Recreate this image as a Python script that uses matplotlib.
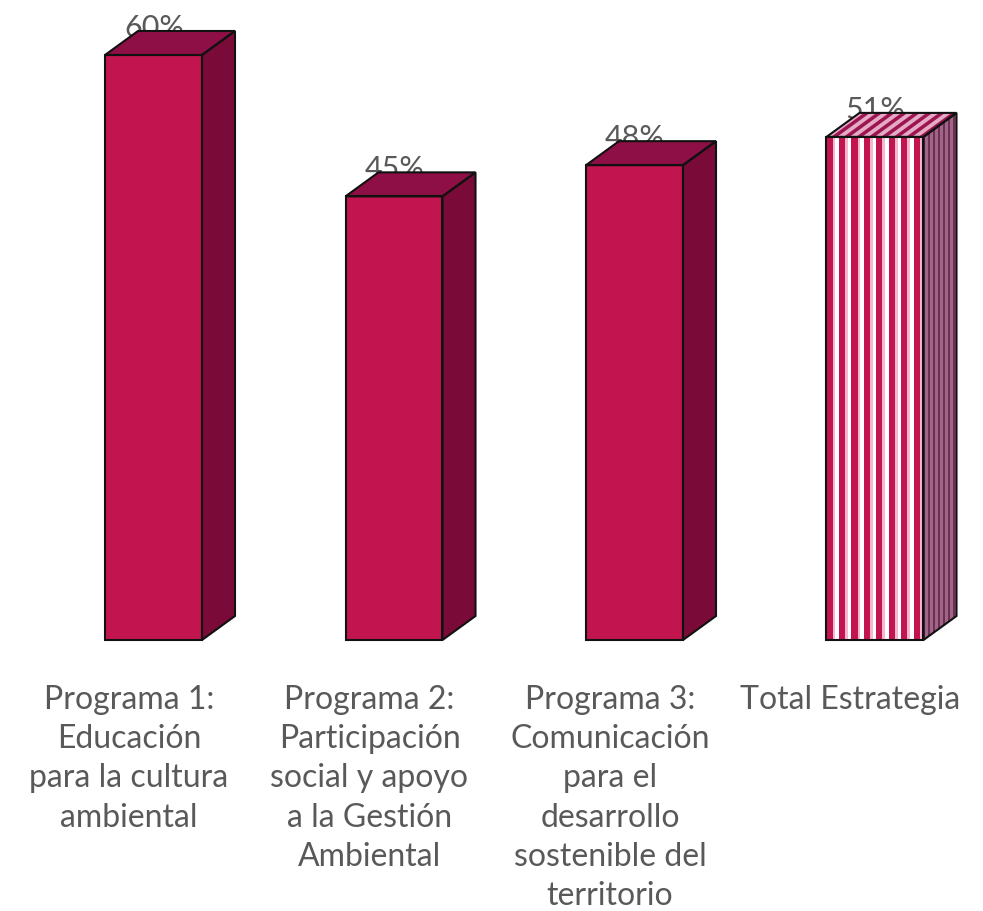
import matplotlib
matplotlib.use("Agg")
import matplotlib.pyplot as plt
from matplotlib.patches import Polygon, Rectangle

plt.rcParams["font.family"] = ["Lato", "DejaVu Sans"]

categories = [
    "Programa 1:\nEducación\npara la cultura\nambiental",
    "Programa 2:\nParticipación\nsocial y apoyo\na la Gestión\nAmbiental",
    "Programa 3:\nComunicación\npara el\ndesarrollo\nsostenible del\nterritorio",
    "Total Estrategia",
]
values = [60, 45.5, 48.7, 51.6]
value_labels = ["60%", "45%", "48%", "51%"]
striped = [False, False, False, True]

W, H = 983, 911
PX_X = 240.5  # pixels per category
PX_Y = 9.75  # pixels per percentage point
BASE_PX = 640
FIRST_PX = 153.5

FRONT = "#C2154F"
TOP = "#8E0F45"
SIDE = "#7A0B38"
TEXT = "#595959"

bar_w = 97 / PX_X
dx = 33 / PX_X
dy = 24 / PX_Y

fig = plt.figure(figsize=(W / 100, H / 100), dpi=100)
ax = fig.add_axes([0, 0, 1, 1])
ax.set_xlim(-FIRST_PX / PX_X, (W - FIRST_PX) / PX_X)
ax.set_ylim(-(H - BASE_PX) / PX_Y, BASE_PX / PX_Y)
ax.axis("off")


def stripes(poly, x0, x1, y0, y1, slant, color, width, period):
    """Fill poly with stripes; slant shifts the top of each stripe sideways."""
    x = x0 - abs(slant) - period
    while x < x1 + abs(slant):
        s = Polygon(
            [(x, y0), (x + width, y0), (x + width + slant, y1), (x + slant, y1)],
            facecolor=color, edgecolor="none", zorder=3,
        )
        ax.add_patch(s)
        s.set_clip_path(poly)
        x += period


for i, v in enumerate(values):
    left, right = i - bar_w / 2, i + bar_w / 2
    side_pts = [(right, 0), (right + dx, dy), (right + dx, v + dy), (right, v)]
    top_pts = [(left, v), (right, v), (right + dx, v + dy), (left + dx, v + dy)]

    # data label sits behind the top face, as in the source
    ax.text(i + 0.5 / PX_X, v + 27 / PX_Y, value_labels[i], ha="center", va="center",
            fontsize=22, color=TEXT, zorder=1)

    if striped[i]:
        front = Rectangle((left, 0), bar_w, v, facecolor="#FFFFFF", edgecolor="none", zorder=2)
        side = Polygon(side_pts, facecolor="#A0668A", edgecolor="none", zorder=2)
        top = Polygon(top_pts, facecolor="#E3ABC4", edgecolor="none", zorder=2)
        for p in (front, side, top):
            ax.add_patch(p)
        period = 12.5 / PX_X
        stripes(front, left, right, 0, v, 0, "#F9B4CF", 9 / PX_X, period)
        stripes(front, left, right, 0, v, 0, FRONT, 6 / PX_X, period)
        stripes(side, right, right + dx, 0, v + dy, 0, "#6E2F50", 2 / PX_X, 5 / PX_X)
        stripes(top, left, right + dx, v, v + dy, dx, "#9E1450", 6 / PX_X, period)
    else:
        ax.bar(i, v, width=bar_w, color=FRONT, zorder=2)
        ax.add_patch(Polygon(side_pts, facecolor=SIDE, edgecolor="none", zorder=2))
        ax.add_patch(Polygon(top_pts, facecolor=TOP, edgecolor="none", zorder=2))

    # outlines on top of fills
    for pts in (side_pts, top_pts, [(left, 0), (right, 0), (right, v), (left, v)]):
        ax.add_patch(Polygon(pts, fill=False, edgecolor="#111111", linewidth=1.5,
                             joinstyle="miter", zorder=4))

    # category labels sit left of the bar centres in the source
    ax.text(i - 24.5 / PX_X, -(685 - BASE_PX) / PX_Y, categories[i], ha="center", va="top",
            fontsize=23, color=TEXT, linespacing=1.385, zorder=1)

fig.savefig("out.png", dpi=100, facecolor="white")
